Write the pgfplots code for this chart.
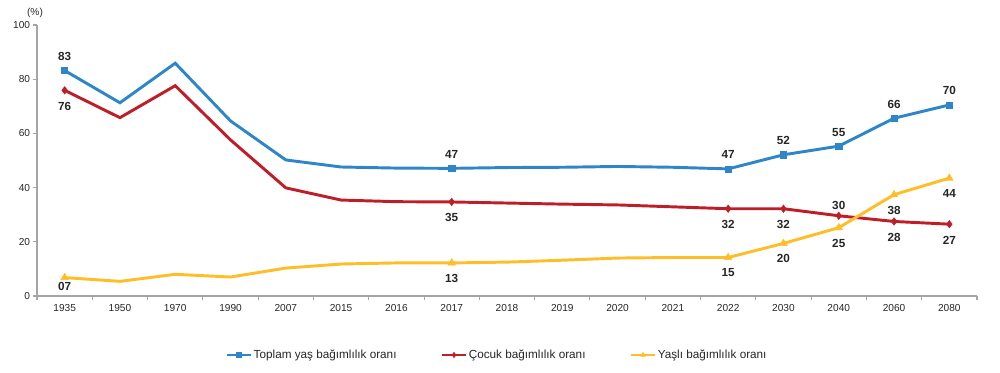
\documentclass[border=0pt]{standalone}
\usepackage{fontspec}
\setmainfont{Liberation Sans}
\usepackage{pgfplots}
\usepackage{pgfplotstable}
\pgfplotsset{compat=1.18}
\definecolor{cblue}{RGB}{46,134,201}
\definecolor{cred}{RGB}{190,30,40}
\definecolor{cyel}{RGB}{255,189,40}
\definecolor{cax}{RGB}{165,165,165}
\newcommand\lbl{\fontsize{8.8}{10}\selectfont\bfseries}

\pgfplotstableread{
x top coc yas
0  83.2 75.9 6.8
1  71.3 65.8 5.4
2  85.9 77.6 8.0
3  64.6 57.6 7.0
4  50.2 39.9 10.3
5  47.6 35.4 11.8
6  47.2 34.8 12.2
7  47.1 34.7 12.2
8  47.4 34.3 12.5
9  47.5 33.9 13.2
10 47.8 33.6 14.0
11 47.5 32.9 14.2
12 46.9 32.2 14.2
13 52.1 32.2 19.4
14 55.3 29.6 25.2
15 65.6 27.5 37.4
16 70.5 26.5 43.5
}\data

\begin{document}
\begin{tikzpicture}
\begin{axis}[
  scale only axis, width=705pt, height=203.25pt,
  xmin=-0.5, xmax=16.5, ymin=0, ymax=100,
  axis x line=bottom, axis y line=left,
  axis line style={draw=cax, line width=0.8pt, -},
  xtick={0,...,16},
  xticklabels={1935,1950,1970,1990,2007,2015,2016,2017,2018,2019,2020,2021,2022,2030,2040,2060,2080},
  major x tick style={draw=none},
  minor xtick={-0.5,0.5,...,16.5},
  minor x tick style={draw=cax, line width=0.8pt},
  ytick={0,20,...,100},
  major y tick style={draw=cax, line width=0.8pt},
  tick align=outside, major tick length=3pt, minor tick length=3pt,
  tick label style={font=\fontsize{7.6}{8.5}\selectfont, text=black!85},
  yticklabel style={inner xsep=2pt},
  /pgf/number format/assume math mode=true,
  clip=false,
  legend style={at={(0.489,-0.2177)}, anchor=center, draw=none, legend columns=3,
    font=\fontsize{8.8}{10}\selectfont, text=black!85,
    /tikz/every even column/.append style={column sep=32pt},
    nodes={inner xsep=1pt}},
  legend image code/.code={
    \draw[#1] (0pt,0pt) -- (18pt,0pt);
    \path[#1, mark size=2pt] plot[only marks] coordinates {(9pt,0pt)};
  },
  nodes near coords style={font=\lbl, text=black!85, inner sep=0pt, anchor=center},
]
\addplot[cblue, line width=2.2pt, mark=square*, mark size=2.3pt, mark options={solid, line width=0.4pt},
  mark indices={1,8,13,14,15,16,17}] table[x=x,y=top] {\data};
\addlegendentry{Toplam yaş bağımlılık oranı}
\addplot[cred, line width=2.2pt, mark=diamond*, mark size=2.8pt, mark options={solid, line width=0.4pt},
  mark indices={1,8,13,14,15,16,17}] table[x=x,y=coc] {\data};
\addlegendentry{Çocuk bağımlılık oranı}
\addplot[cyel, line width=2.2pt, mark=triangle*, mark size=3.2pt, mark options={solid, line width=0.4pt},
  mark indices={1,8,13,14,15,16,17}] table[x=x,y=yas] {\data};
\addlegendentry{Yaşlı bağımlılık oranı}

% data labels
\addplot[draw=none, forget plot, nodes near coords, point meta=explicit symbolic,
  nodes near coords style={yshift=10.5pt}]
  coordinates {(0,83.2)[83] (7,47.1)[47] (12,46.9)[47] (13,52.1)[52] (14,55.3)[55] (15,65.6)[66] (16,70.5)[70]};
\addplot[draw=none, forget plot, nodes near coords, point meta=explicit symbolic,
  nodes near coords style={yshift=-12pt}]
  coordinates {(0,75.9)[76] (7,34.7)[35] (12,32.2)[32] (13,32.2)[32] (15,27.5)[28] (16,26.5)[27]};
\addplot[draw=none, forget plot, nodes near coords, point meta=explicit symbolic,
  nodes near coords style={yshift=8pt}]
  coordinates {(14,29.6)[30]};
\addplot[draw=none, forget plot, nodes near coords, point meta=explicit symbolic,
  nodes near coords style={yshift=-11.5pt}]
  coordinates {(7,12.2)[13] (12,14.2)[15] (13,19.4)[20] (14,25.2)[25] (15,37.4)[38] (16,43.5)[44]};
\addplot[draw=none, forget plot, nodes near coords, point meta=explicit symbolic,
  nodes near coords style={yshift=-7pt}]
  coordinates {(0,6.8)[07]};
\end{axis}
\node[font=\fontsize{7.6}{8.5}\selectfont, text=black!85] at (-1.5pt,212pt) {(\%)};
\path[use as bounding box] (-27.75pt,-57.75pt) rectangle (722.25pt,222pt);
\end{tikzpicture}
\end{document}
